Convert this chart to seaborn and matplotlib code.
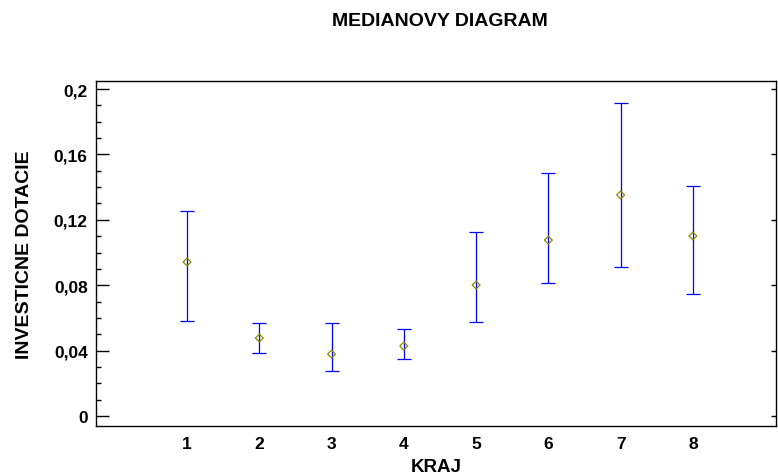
import matplotlib
matplotlib.use("Agg")
import matplotlib.pyplot as plt
import seaborn as sns
import pandas as pd
from matplotlib.ticker import FixedLocator, MultipleLocator, FixedFormatter

sns.set_style("white")
plt.rcParams['font.family'] = ['Liberation Sans', 'DejaVu Sans']
plt.rcParams['text.color'] = 'black'
plt.rcParams['axes.labelcolor'] = 'black'
plt.rcParams['xtick.color'] = 'black'
plt.rcParams['ytick.color'] = 'black'

kraj = [1, 2, 3, 4, 5, 6, 7, 8]
median = [0.0942, 0.0477, 0.0379, 0.0428, 0.0801, 0.1076, 0.1352, 0.1101]
upper = [0.1254, 0.0569, 0.0569, 0.0532, 0.1125, 0.1486, 0.1914, 0.1407]
lower = [0.0581, 0.0385, 0.0275, 0.0349, 0.0575, 0.0813, 0.0911, 0.0746]
ytick_vals = [0, 0.04, 0.08, 0.12, 0.16, 0.2]
ytick_labels = ["0", "0,04", "0,08", "0,12", "0,16", "0,2"]

df = pd.DataFrame({"KRAJ": kraj, "median": median, "upper": upper, "lower": lower})

fig = plt.figure(figsize=(7.78, 4.77), dpi=100)
ax = fig.add_axes([96/778, 50/477, 680/778, 345/477])

ax.errorbar(df["KRAJ"], df["median"],
            yerr=[df["median"] - df["lower"], df["upper"] - df["median"]],
            fmt="none", ecolor="#0000ff", elinewidth=0.9, capsize=5.2, capthick=0.9, zorder=2)
sns.scatterplot(data=df, x="KRAJ", y="median", ax=ax, marker="D", s=16,
                facecolor="none", edgecolor="#8a8a00", linewidth=0.9, zorder=3)

ax.set_xlim(-0.26, 9.15)
ax.set_ylim(-0.0061, 0.2049)
ax.xaxis.set_major_locator(FixedLocator(kraj))
ax.set_xticklabels([str(k) for k in kraj])
ax.yaxis.set_major_locator(FixedLocator(ytick_vals))
ax.yaxis.set_major_formatter(FixedFormatter(ytick_labels))
ax.yaxis.set_minor_locator(MultipleLocator(0.01))

for s in ax.spines.values():
    s.set_visible(True)
    s.set_color("black")
    s.set_linewidth(1.0)

ax.tick_params(axis="x", which="both", length=0, pad=7, labelsize=12.5)
ax.tick_params(axis="y", which="major", direction="in", length=9, width=1,
               left=True, right=True, labelsize=12.5, pad=6, color="black")
ax.tick_params(axis="y", which="minor", direction="in", length=3.6, width=1,
               left=True, right=False, color="black")
for lbl in ax.get_xticklabels() + ax.get_yticklabels():
    lbl.set_fontweight("bold")

for t in ax.yaxis.get_major_ticks():
    t.tick2line.set_markersize(3.6)

ax.set_xlabel("KRAJ", fontsize=13.5, fontweight="bold", labelpad=5)
ax.set_ylabel("INVESTICNE DOTACIE", fontsize=14, fontweight="bold", labelpad=15)
fig.text(440/778, 1 - 21/477, "MEDIANOVY DIAGRAM", ha="center", va="center",
         fontsize=14, fontweight="bold")

fig.savefig("out.png", dpi=100)
